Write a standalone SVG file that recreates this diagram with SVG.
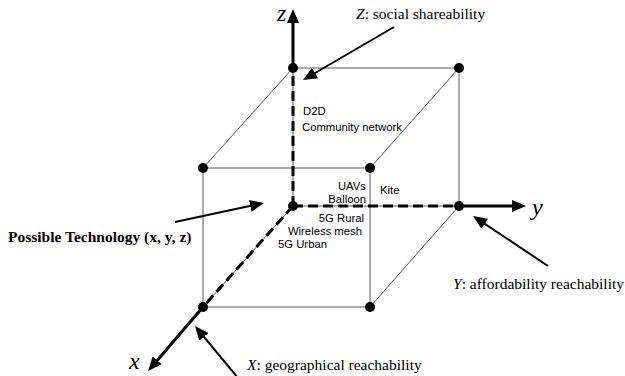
<svg xmlns="http://www.w3.org/2000/svg" width="625" height="376" viewBox="0 0 625 376">
<defs>
<style>
.edge{stroke:#5a5a5a;stroke-width:1;fill:none}
.dash{stroke:#000;stroke-width:3;stroke-dasharray:10,5;fill:none}
.axis{stroke:#000;stroke-width:3;fill:none}
.ann{stroke:#000;stroke-width:2;fill:none}
.node{fill:#000}
.serif{font-family:"Liberation Serif","Times New Roman",serif;font-size:15.5px;fill:#000}
.axl{font-family:"Liberation Serif","Times New Roman",serif;font-style:italic;font-size:24px;fill:#000}
.lab{font-family:"Liberation Sans",Arial,sans-serif;font-size:11.3px;fill:#000}
</style>
<marker id="ah" markerUnits="userSpaceOnUse" markerWidth="14" markerHeight="12" refX="3" refY="6" orient="auto">
<path d="M0,0 L14,6 L0,12 z" fill="#000"/>
</marker>
</defs>
<rect width="625" height="376" fill="#fff"/>
<g id="connectors">
<line class="edge" x1="293" y1="68" x2="459" y2="68"/>
<line class="edge" x1="293" y1="68" x2="203" y2="168"/>
<line class="edge" x1="459" y1="68" x2="370" y2="168"/>
<line class="edge" x1="459" y1="68" x2="459" y2="206"/>
<line class="edge" x1="203" y1="168" x2="370" y2="168"/>
<line class="edge" x1="203" y1="168" x2="203" y2="307"/>
<line class="edge" x1="370" y1="168" x2="370" y2="307"/>
<line class="edge" x1="203" y1="307" x2="370" y2="307"/>
<line class="edge" x1="459" y1="206" x2="370" y2="307"/>
<line class="edge" x1="293" y1="206" x2="293" y2="68"/>
<line class="edge" x1="293" y1="206" x2="459" y2="206"/>
<line class="edge" x1="293" y1="206" x2="203" y2="307"/>
<line class="dash" x1="293" y1="206" x2="293" y2="68"/>
<line class="dash" x1="293" y1="206" x2="459" y2="206"/>
<line class="dash" x1="293" y1="206" x2="203" y2="307"/>
<line class="axis" x1="293" y1="68" x2="293" y2="20" marker-end="url(#ah)"/>
<line class="axis" x1="459" y1="206" x2="515" y2="206" marker-end="url(#ah)"/>
<line class="axis" x1="203" y1="307" x2="155.2" y2="362.7" marker-end="url(#ah)"/>
<line class="ann" x1="394" y1="27" x2="312.5" y2="74.5" marker-end="url(#ah)"/>
<line class="ann" x1="175" y1="222" x2="253.2" y2="205.3" marker-end="url(#ah)"/>
<line class="ann" x1="548" y1="266" x2="482.2" y2="222.1" marker-end="url(#ah)"/>
<line class="ann" x1="238" y1="378" x2="202" y2="334.5" marker-end="url(#ah)"/>
</g>
<g id="n-origin"><circle class="node" cx="293" cy="206" r="5"/></g>
<g id="n-ztop"><circle class="node" cx="293" cy="68" r="5"/></g>
<g id="n-backtopright"><circle class="node" cx="459" cy="68" r="5"/></g>
<g id="n-y"><circle class="node" cx="459" cy="206" r="5"/></g>
<g id="n-fronttopleft"><circle class="node" cx="203" cy="168" r="5"/></g>
<g id="n-fronttopright"><circle class="node" cx="370" cy="168" r="5"/></g>
<g id="n-x"><circle class="node" cx="203" cy="307" r="5"/></g>
<g id="n-frontbottomright"><circle class="node" cx="370" cy="307" r="5"/></g>
<g id="axis-labels">
<text class="axl" x="277" y="21">z</text>
<text class="axl" x="532" y="215">y</text>
<text class="axl" x="129" y="369">x</text>
</g>
<g id="annotations">
<text class="serif" x="356" y="19"><tspan font-style="italic">Z</tspan>: social shareability</text>
<text class="serif" x="8" y="242" font-weight="bold">Possible Technology (x, y, z)</text>
<text class="serif" x="453" y="289"><tspan font-style="italic">Y</tspan>: affordability reachability</text>
<text class="serif" x="247" y="370"><tspan font-style="italic">X</tspan>: geographical reachability</text>
</g>
<g id="tech-labels">
<text class="lab" x="303" y="115">D2D</text>
<text class="lab" x="302" y="131">Community network</text>
<text class="lab" x="366" y="190" text-anchor="end">UAVs</text>
<text class="lab" x="366" y="203" text-anchor="end">Balloon</text>
<text class="lab" x="380" y="194">Kite</text>
<text class="lab" x="364" y="222" text-anchor="end">5G Rural</text>
<text class="lab" x="362" y="235" text-anchor="end">Wireless mesh</text>
<text class="lab" x="278" y="248">5G Urban</text>
</g>
</svg>
